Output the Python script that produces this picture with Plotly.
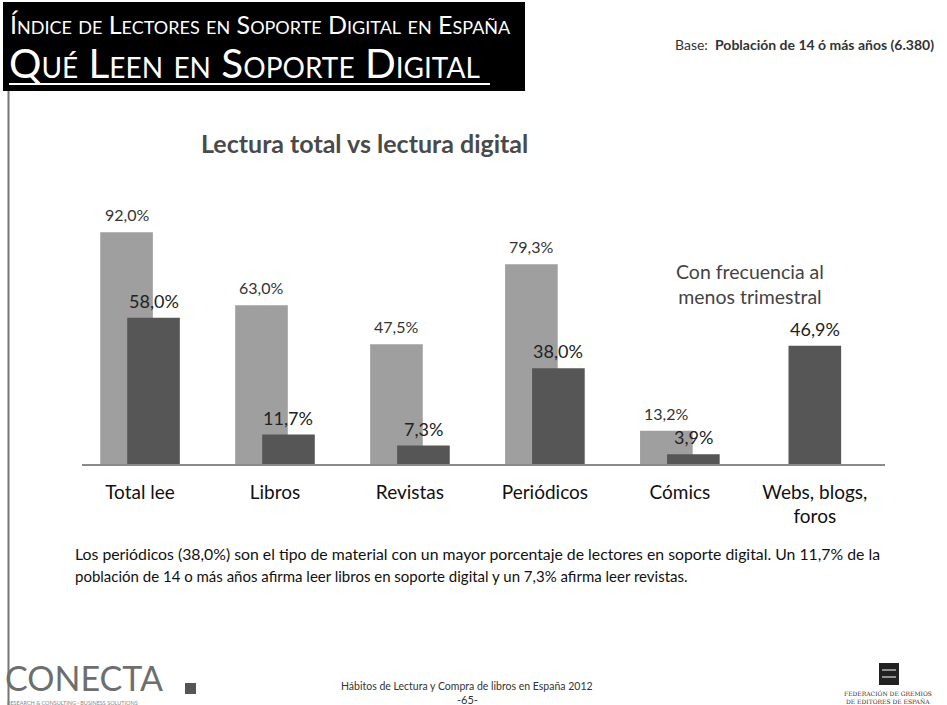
import plotly.graph_objects as go

categories = ["Total lee", "Libros", "Revistas", "Periódicos", "Cómics", "Webs, blogs,<br>foros"]
total_values = [92.0, 63.0, 47.5, 79.3, 13.2, None]
digital_values = [58.0, 11.7, 7.3, 38.0, 3.9, 46.9]
total_labels = ["92,0%", "63,0%", "47,5%", "79,3%", "13,2%", None]
digital_labels = ["58,0%", "11,7%", "7,3%", "38,0%", "3,9%", "46,9%"]

W, H = 947, 705
LIGHT = "#9f9f9f"
DARK = "#565656"
FONT = "Lato, 'Open Sans', sans-serif"


def px(x):
    return x / W


def py(y):
    return 1 - y / H


BW = 0.39
x_idx = list(range(len(categories)))
light_off = [-0.295 for _ in categories]
dark_off = [(-0.095 if t is not None else -BW / 2) for t in total_values]

fig = go.Figure()
fig.add_trace(go.Bar(
    x=x_idx, y=[v if v is not None else 0 for v in total_values],
    width=[BW] * len(categories), offset=light_off,
    marker=dict(color=LIGHT, line=dict(width=0)), hoverinfo="skip", showlegend=False,
))
fig.add_trace(go.Bar(
    x=x_idx, y=digital_values,
    width=[BW] * len(categories), offset=dark_off,
    marker=dict(color=DARK, line=dict(width=0)), hoverinfo="skip", showlegend=False,
))

annotations = []
for i, (v, lab) in enumerate(zip(total_values, total_labels)):
    if v is None:
        continue
    annotations.append(dict(x=i + light_off[i] + BW / 2, y=v, xref="x", yref="y", text=lab,
                            showarrow=False, yanchor="bottom", yshift=6,
                            font=dict(family=FONT, size=16, color="#333333")))
for i, (v, lab) in enumerate(zip(digital_values, digital_labels)):
    annotations.append(dict(x=i + dark_off[i] + BW / 2, y=v, xref="x", yref="y", text=lab,
                            showarrow=False, yanchor="bottom", yshift=4,
                            font=dict(family=FONT, size=18, color="#222222")))

# Header texts
annotations += [
    dict(x=px(8), y=py(24), xref="paper", yref="paper", xanchor="left", yanchor="middle",
         text="Índice de Lectores en Soporte Digital en España", showarrow=False,
         font=dict(family=FONT, size=25, color="white", variant="small-caps")),
    dict(x=px(7), y=py(62), xref="paper", yref="paper", xanchor="left", yanchor="middle",
         text="Qué Leen en Soporte Digital", showarrow=False,
         font=dict(family=FONT, size=40.5, color="white", variant="small-caps")),
    dict(x=px(936), y=py(45), xref="paper", yref="paper", xanchor="right", yanchor="middle",
         text="Base:  <b>Población de 14 ó más años (6.380)</b>", showarrow=False,
         font=dict(family=FONT, size=14, color="#333333")),
    dict(x=px(364), y=py(143), xref="paper", yref="paper", xanchor="center", yanchor="middle",
         text="<b>Lectura total vs lectura digital</b>", showarrow=False,
         font=dict(family=FONT, size=25, color="#4a4a4a")),
    dict(x=px(750), y=py(284), xref="paper", yref="paper", xanchor="center", yanchor="middle",
         text="Con frecuencia al<br>menos trimestral", showarrow=False,
         font=dict(family=FONT, size=19.5, color="#444444")),
    dict(x=px(73), y=py(553), xref="paper", yref="paper", xanchor="left", yanchor="middle",
         text="Los periódicos (38,0%) son el tipo de material con un mayor porcentaje de lectores en soporte digital. Un 11,7% de la",
         showarrow=False, font=dict(family=FONT, size=15.8, color="#111111")),
    dict(x=px(73), y=py(576), xref="paper", yref="paper", xanchor="left", yanchor="middle",
         text="población de 14 o más años afirma leer libros en soporte digital y un 7,3% afirma leer revistas.",
         showarrow=False, font=dict(family=FONT, size=15, color="#111111")),
    # footer
    dict(x=px(4), y=py(699), xref="paper", yref="paper", xanchor="left", yanchor="bottom",
         text="CONECTA", showarrow=False, borderpad=0,
         font=dict(family=FONT, size=34, color="#6e6e6e")),
    dict(x=px(6), y=py(699), xref="paper", yref="paper", xanchor="left", yanchor="top",
         text="RESEARCH &amp; CONSULTING · BUSINESS SOLUTIONS", showarrow=False, borderpad=0,
         font=dict(family=FONT, size=5.5, color="#888888")),
    dict(x=px(467), y=py(686), xref="paper", yref="paper", xanchor="center", yanchor="middle",
         text="Hábitos de Lectura y Compra de libros en España 2012", showarrow=False,
         font=dict(family="'Liberation Sans Narrow', " + FONT, size=10.5, color="#333333")),
    dict(x=px(467), y=py(699), xref="paper", yref="paper", xanchor="center", yanchor="middle",
         text="-65-", showarrow=False,
         font=dict(family=FONT, size=11, color="#333333")),
    dict(x=px(888), y=py(693), xref="paper", yref="paper", xanchor="center", yanchor="middle",
         text="FEDERACIÓN DE GREMIOS", showarrow=False,
         font=dict(family="'DejaVu Serif', serif", size=6, color="#333333")),
    dict(x=px(888), y=py(701), xref="paper", yref="paper", xanchor="center", yanchor="middle",
         text="DE EDITORES DE ESPAÑA", showarrow=False,
         font=dict(family="'DejaVu Serif', serif", size=6, color="#333333")),
]

shapes = [
    dict(type="rect", xref="paper", yref="paper", x0=px(3), x1=px(525), y0=py(91), y1=py(2),
         fillcolor="black", line=dict(width=0), layer="below"),
    dict(type="line", xref="paper", yref="paper", x0=px(9), x1=px(490), y0=py(84), y1=py(84),
         line=dict(color="white", width=2)),
    dict(type="line", xref="paper", yref="paper", x0=px(8.5), x1=px(8.5), y0=py(91), y1=py(705),
         line=dict(color="#777777", width=2)),
    # CONECTA square
    dict(type="rect", xref="paper", yref="paper", x0=px(185), x1=px(196), y0=py(694), y1=py(683),
         fillcolor="#555555", line=dict(width=0)),
    # FGEE icon
    dict(type="rect", xref="paper", yref="paper", x0=px(879), x1=px(899), y0=py(685), y1=py(663),
         fillcolor="#222222", line=dict(width=0)),
    dict(type="line", xref="paper", yref="paper", x0=px(882), x1=px(896), y0=py(670), y1=py(670),
         line=dict(color="white", width=1)),
    dict(type="line", xref="paper", yref="paper", x0=px(882), x1=px(896), y0=py(677), y1=py(677),
         line=dict(color="white", width=1)),
]

fig.update_layout(
    width=W, height=H,
    margin=dict(l=0, r=0, t=0, b=0),
    paper_bgcolor="white", plot_bgcolor="white",
    barmode="overlay",
    showlegend=False,
    xaxis=dict(domain=[px(82), px(885)], range=[-0.43, 5.52],
               tickvals=x_idx, ticktext=categories, tickmode="array",
               showgrid=False, zeroline=False, showline=True, linecolor="#8a8a8a", linewidth=1.5,
               ticks="", ticklabelstandoff=10,
               tickfont=dict(family=FONT, size=19, color="#111111"), fixedrange=True),
    yaxis=dict(domain=[py(464), py(212)], range=[0, 100], visible=False, fixedrange=True),
    annotations=annotations,
    shapes=shapes,
)

fig.write_html("out.html", config={"displayModeBar": False},
               post_script="document.body.style.margin='0px';document.body.style.overflow='hidden';")
